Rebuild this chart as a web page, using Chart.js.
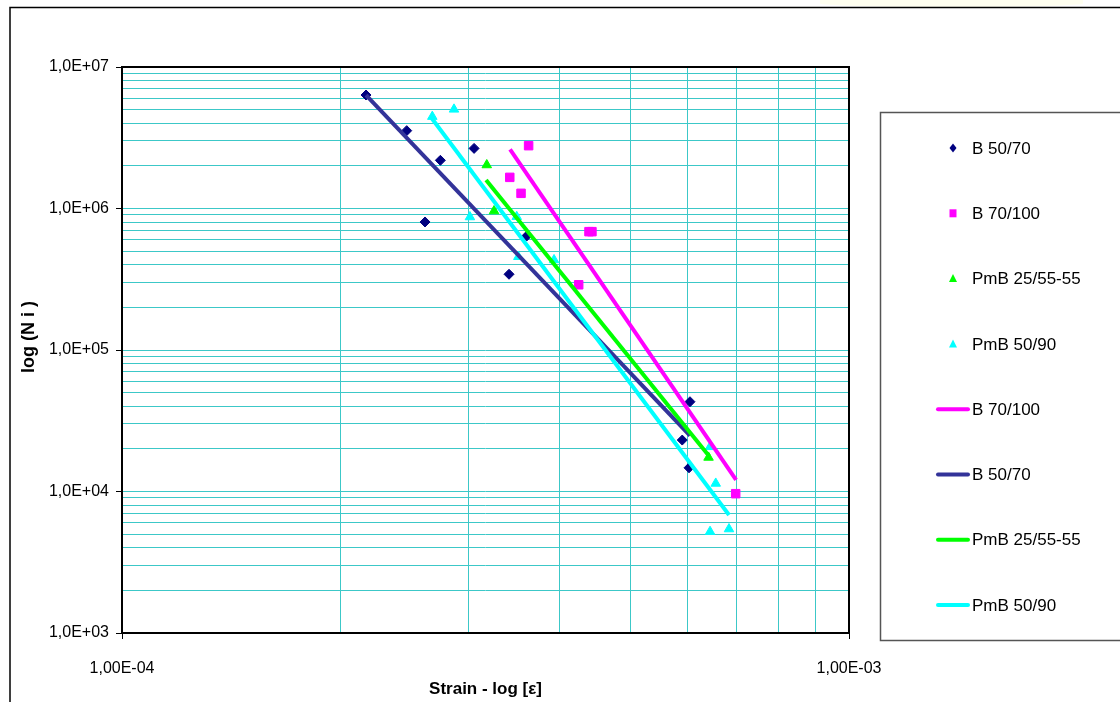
<!DOCTYPE html>
<html>
<head>
<meta charset="utf-8">
<script src="https://cdn.jsdelivr.net/npm/chart.js@4.4.0/dist/chart.umd.min.js"></script>
<style>
    html, body { margin: 0; padding: 0; background: #fff; }
    #wrap { position: relative; width: 1120px; height: 702px; overflow: hidden; }
    #glow { position: absolute; left: 820px; top: 0; width: 263px; height: 7px; background: #fffff0; border-radius: 0 0 50% 50%; }
    #myChart { position: absolute; left: 0; top: 0; }
</style>
</head>
<body>
<div id="wrap">
    <div id="glow"></div>
    <canvas id="myChart" width="1120" height="702"></canvas>
</div>
<script>
// measured points, strain [-] vs. cycles to failure
let b5070Strain = [2.166e-4, 2.464e-4, 2.741e-4, 2.611e-4, 3.05e-4, 3.407e-4, 3.603e-4, 6.043e-4, 5.897e-4, 6.025e-4];
let b5070Cycles = [6.34e6, 3.55e6, 2.19e6, 8.03e5, 2.66e6, 3.43e5, 6.39e5, 4.31e4, 2.31e4, 1.47e4];

let b70100Strain = [3.625e-4, 3.415e-4, 3.539e-4, 4.389e-4, 4.43e-4, 4.248e-4, 6.985e-4];
let b70100Cycles = [2.78e6, 1.66e6, 1.28e6, 6.86e5, 6.86e5, 2.89e5, 9.65e3];

let pmb2555Strain = [3.175e-4, 3.249e-4, 6.409e-4];
let pmb2555Cycles = [2.03e6, 9.6e5, 1.74e4];

let pmb5090Strain = [2.672e-4, 2.862e-4, 3.01e-4, 3.491e-4, 3.509e-4, 3.929e-4, 6.44e-4, 6.557e-4, 6.44e-4, 6.838e-4];
let pmb5090Cycles = [4.46e6, 5.02e6, 8.71e5, 8.75e5, 4.56e5, 4.33e5, 2.07e4, 1.14e4, 5.2e3, 5.43e3];

// power trend lines, start / end
let b70100TrendStrain = [3.418e-4, 6.993e-4];
let b70100TrendCycles = [2.62e6, 1.206e4];
let b5070TrendStrain = [2.166e-4, 6.043e-4];
let b5070TrendCycles = [6.34e6, 2.48e4];
let pmb2555TrendStrain = [3.168e-4, 6.419e-4];
let pmb2555TrendCycles = [1.59e6, 1.78e4];
let pmb5090TrendStrain = [2.667e-4, 6.839e-4];
let pmb5090TrendCycles = [4.34e6, 6.82e3];

let strainTicks = [1e-4, 2e-4, 3e-4, 4e-4, 5e-4, 6e-4, 7e-4, 8e-4, 9e-4, 1e-3];
let strainTickLabels = ['1,00E-04', '', '', '', '', '', '', '', '', '1,00E-03'];
let cycleDecades = [1e3, 1e4, 1e5, 1e6, 1e7];
let cycleDecadeLabels = ['1,0E+03', '1,0E+04', '1,0E+05', '1,0E+06', '1,0E+07'];

let gridColor = '#3cc8c8';
let fontFamily = "'Liberation Sans', Arial, sans-serif";

let cycleTicks = [];
for (let i = 0; i < cycleDecades.length - 1; i++) {
    for (let k = 1; k <= 9; k++) cycleTicks.push(cycleDecades[i] * k);
}
cycleTicks.push(cycleDecades[cycleDecades.length - 1]);

function toPoints(xs, ys) {
    let pts = [];
    xs.forEach((x, i) => pts.push({x: x, y: ys[i]}));
    return pts;
}

function isDecade(v, list) {
    return list.some(d => Math.abs(v - d) / d < 1e-6);
}

let datasets = [
    {label: 'B 70/100', data: toPoints(b70100TrendStrain, b70100TrendCycles), showLine: true, borderColor: '#ff00ff', borderWidth: 4, pointRadius: 0, order: 3, trend: true},
    {label: 'B 50/70', data: toPoints(b5070TrendStrain, b5070TrendCycles), showLine: true, borderColor: '#333399', borderWidth: 4, pointRadius: 0, order: 2, trend: true},
    {label: 'PmB 25/55-55', data: toPoints(pmb2555TrendStrain, pmb2555TrendCycles), showLine: true, borderColor: '#00ff00', borderWidth: 4, pointRadius: 0, order: 1, trend: true},
    {label: 'PmB 50/90', data: toPoints(pmb5090TrendStrain, pmb5090TrendCycles), showLine: true, borderColor: '#00ffff', borderWidth: 4, pointRadius: 0, order: 0, trend: true},
    {label: 'B 50/70', data: toPoints(b5070Strain, b5070Cycles), pointStyle: 'rectRot', pointRadius: 5, backgroundColor: '#000080', borderColor: '#000080', borderWidth: 1, order: 7},
    {label: 'B 70/100', data: toPoints(b70100Strain, b70100Cycles), pointStyle: 'rect', pointRadius: 6, backgroundColor: '#ff00ff', borderColor: '#ff00ff', borderWidth: 1, order: 6},
    {label: 'PmB 25/55-55', data: toPoints(pmb2555Strain, pmb2555Cycles), pointStyle: 'triangle', pointRadius: 5.5, backgroundColor: '#00ff00', borderColor: '#00ff00', borderWidth: 1, order: 5},
    {label: 'PmB 50/90', data: toPoints(pmb5090Strain, pmb5090Cycles), pointStyle: 'triangle', pointRadius: 5.5, backgroundColor: '#00ffff', borderColor: '#00ffff', borderWidth: 1, order: 4}
];

// legend order as in the picture: markers first, then trend lines
let legendOrder = [4, 5, 6, 7, 0, 1, 2, 3];

function drawMarker(ctx, ds, x, y) {
    ctx.fillStyle = ds.backgroundColor;
    ctx.beginPath();
    if (ds.pointStyle === 'rectRot') {
        ctx.moveTo(x, y - 4.5); ctx.lineTo(x + 3.5, y); ctx.lineTo(x, y + 4.5); ctx.lineTo(x - 3.5, y);
    } else if (ds.pointStyle === 'rect') {
        ctx.rect(x - 3.5, y - 4, 7, 8);
    } else {
        ctx.moveTo(x, y - 4.5); ctx.lineTo(x + 4, y + 3.5); ctx.lineTo(x - 4, y + 3.5);
    }
    ctx.closePath();
    ctx.fill();
}

let framePlugin = {
    id: 'frames',
    beforeDraw(chart) {
        let ctx = chart.ctx;
        ctx.save();
        ctx.strokeStyle = '#000';
        ctx.lineWidth = 1.5;
        ctx.strokeRect(10, 7.5, 1300, 900);
        ctx.restore();
    },
    afterDraw(chart) {
        let ctx = chart.ctx;
        let a = chart.chartArea;
        ctx.save();
        ctx.strokeStyle = '#000';
        ctx.lineWidth = 2;
        ctx.strokeRect(a.left, a.top, a.right - a.left, a.bottom - a.top);

        // y axis title, sits a bit above the middle of the plot
        ctx.save();
        ctx.translate(29, 337);
        ctx.rotate(-Math.PI / 2);
        ctx.font = 'bold 18px ' + fontFamily;
        ctx.fillStyle = '#000';
        ctx.textAlign = 'center';
        ctx.textBaseline = 'middle';
        ctx.fillText('log (N i )', 0, 0);
        ctx.restore();

        // legend box
        ctx.strokeStyle = '#555';
        ctx.lineWidth = 1.5;
        ctx.strokeRect(880.5, 112.5, 400, 528);
        ctx.font = '17px ' + fontFamily;
        ctx.fillStyle = '#000';
        ctx.textBaseline = 'middle';
        legendOrder.forEach((idx, i) => {
            let ds = chart.data.datasets[idx];
            let y = 148 + i * 65.3;
            if (ds.trend) {
                ctx.strokeStyle = ds.borderColor;
                ctx.lineWidth = 4;
                ctx.lineCap = 'round';
                ctx.beginPath();
                ctx.moveTo(938, y);
                ctx.lineTo(968, y);
                ctx.stroke();
            } else {
                drawMarker(ctx, ds, 953, y);
            }
            ctx.fillStyle = '#000';
            ctx.fillText(ds.label, 972, y + 1);
        });
        ctx.restore();
    }
};

let ctx = document.getElementById('myChart').getContext('2d');

let myChart = new Chart(ctx, {
    type: 'scatter',
    data: {datasets: datasets},
    plugins: [framePlugin],
    options: {
        responsive: false,
        animation: false,
        layout: {padding: {left: 0, right: 271, top: 67, bottom: 0}},
        plugins: {legend: {display: false}, tooltip: {enabled: false}},
        scales: {
            x: {
                type: 'logarithmic',
                position: 'bottom',
                min: 1e-4,
                max: 1e-3,
                afterBuildTicks: (axis) => { axis.ticks = strainTicks.map(v => ({value: v})); },
                afterFit: (axis) => { axis.height = 69; },
                border: {display: false},
                grid: {
                    color: gridColor,
                    lineWidth: 1,
                    tickLength: 6,
                    tickColor: (c) => isDecade(c.tick.value, [1e-4, 1e-3]) ? '#000' : 'rgba(0,0,0,0)'
                },
                ticks: {
                    autoSkip: false,
                    maxRotation: 0,
                    padding: 20,
                    color: '#000',
                    font: {family: fontFamily, size: 16},
                    callback: (v, i) => strainTickLabels[i]
                },
                title: {
                    display: true,
                    text: 'Strain - log [ε]',
                    color: '#000',
                    font: {family: fontFamily, size: 17, weight: 'bold'},
                    padding: {top: 0, bottom: 2}
                }
            },
            y: {
                type: 'logarithmic',
                min: 1e3,
                max: 1e7,
                afterBuildTicks: (axis) => { axis.ticks = cycleTicks.map(v => ({value: v})); },
                afterFit: (axis) => { axis.width = 122; },
                border: {display: false},
                grid: {
                    color: gridColor,
                    lineWidth: 1,
                    tickLength: 6,
                    tickColor: (c) => isDecade(c.tick.value, cycleDecades) ? '#000' : 'rgba(0,0,0,0)'
                },
                ticks: {
                    autoSkip: false,
                    padding: 7,
                    color: '#000',
                    font: {family: fontFamily, size: 16},
                    callback: (v) => {
                        let i = cycleDecades.findIndex(d => Math.abs(v - d) / d < 1e-6);
                        return i >= 0 ? cycleDecadeLabels[i] : '';
                    }
                },
                title: {display: false}
            }
        }
    }
});
</script>
</body>
</html>
